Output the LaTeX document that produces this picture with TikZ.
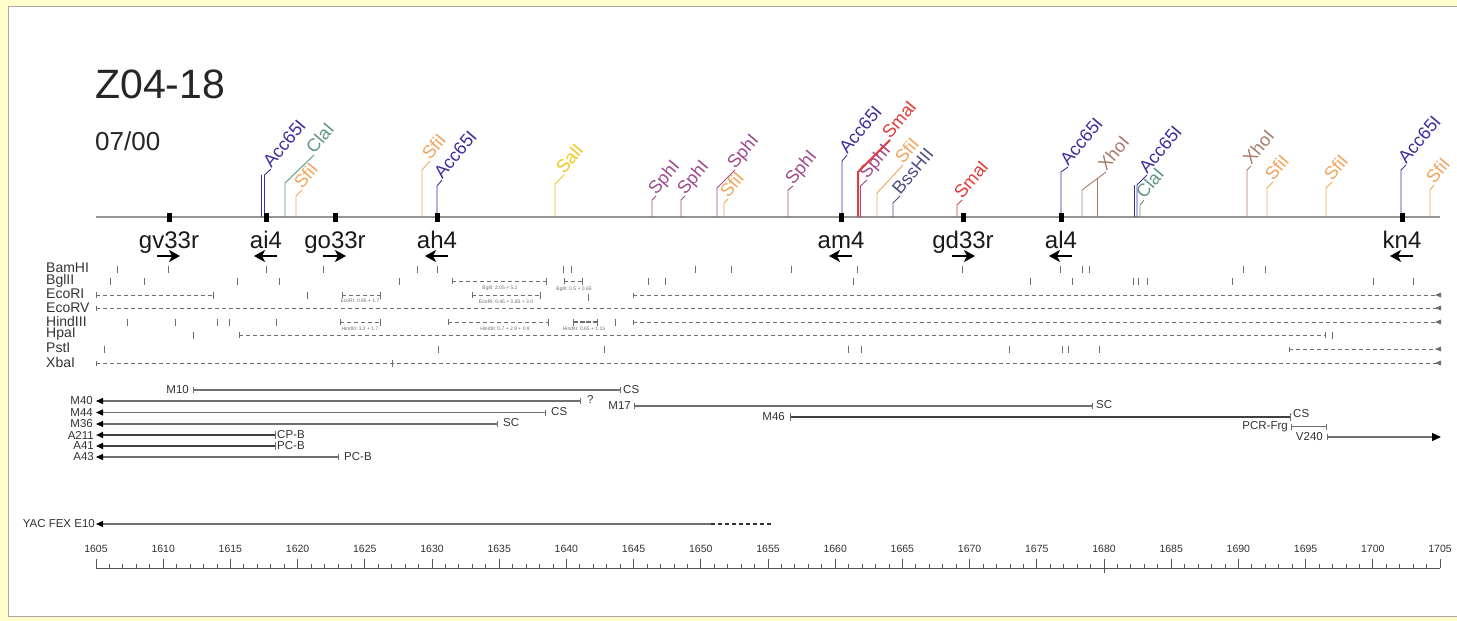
\documentclass[tikz,border=0pt]{standalone}
\usepackage{fontspec}
\setmainfont{Liberation Sans}
\usetikzlibrary{arrows.meta}
\definecolor{bgyel}{HTML}{FFFFCC}
\definecolor{frameg}{HTML}{A8A8A8}
\definecolor{cAcc}{HTML}{3C2F9C}
\definecolor{cCla}{HTML}{5E9585}
\definecolor{cSfi}{HTML}{F2A55A}
\definecolor{cSal}{HTML}{F0C820}
\definecolor{cSph}{HTML}{9E4A8E}
\definecolor{cSma}{HTML}{E23B3B}
\definecolor{cBss}{HTML}{4E4E84}
\definecolor{cXho}{HTML}{A67A6A}
\definecolor{laneg}{HTML}{6E6E6E}
\definecolor{txtg}{HTML}{333333}
\definecolor{cloneg}{HTML}{707070}
\definecolor{rulg}{HTML}{555555}
\definecolor{mainl}{HTML}{959595}
\newcommand{\fs}[1]{\fontsize{#1}{#1}\selectfont}
\newcommand{\rsite}[8][]{%
  \draw[#7, line width=0.9pt, #1] (#3,217) -- (#3,#4) -- (#5,#6);
  \node[sitelab, text=#7] (#2) at (#5,#6) {#8};}
\newcommand{\lticks}[2]{\foreach \t in {#2}{\draw[lanetick] (\t,#1) ++(0,-3.5) -- ++(0,7);}}
\newcommand{\dseg}[3]{\draw[lanedash] (#2,#1) -- (#3,#1);
  \draw[lanetick] (#2,#1) ++(0,-3) -- ++(0,6);
  \draw[lanetick] (#3,#1) ++(0,-3.5) -- ++(0,7);}
\newcommand{\dend}[2]{\draw[lanedash] (#2,#1) -- (1438,#1);
  \draw[lanetick] (#2,#1) ++(0,-2.5) -- ++(0,5);
  \fill[laneg] (1435,#1) -- (1441,#1-2.5) -- (1441,#1+2.5) -- cycle;}
\begin{document}
\begin{tikzpicture}[x=1pt,y=-1pt,
 sitelab/.style={rotate=50, anchor=base west, inner sep=0.5pt, font=\fs{18}},
 mlab/.style={font=\fs{24}, anchor=base, inner sep=0, text=black!90},
 parrow/.style={line width=2.4pt, -{Stealth[length=11pt,width=12pt,inset=3pt]}},
 lanelab/.style={font=\fs{14}, text=txtg, anchor=west, inner sep=0},
 lanetick/.style={draw=laneg, line width=0.9pt},
 lanedash/.style={draw=laneg, line width=0.9pt, dash pattern=on 4pt off 3pt},
 ann/.style={font=\fs{5}, text=laneg, inner sep=0},
 clone/.style={draw=cloneg, line width=1.2pt},
 thickclone/.style={draw=black!75, line width=2.4pt},
 clonelab/.style={font=\fs{11.5}, text=txtg, inner sep=0},
 ltip/.style={{Triangle[length=7pt,width=6pt,color=black]}-},
 rtip/.style={-{Triangle[length=9pt,width=8pt,color=black]}},
 ctick/.style={draw=cloneg, line width=1pt},
 rul/.style={draw=rulg, line width=0.8pt},
 rulab/.style={font=\fs{10.5}, text=txtg, inner sep=0},
 marker/.style={fill=black}
]
\useasboundingbox (0,0) rectangle (1457,621);
\clip (0,0) rectangle (1457,621);
\fill[bgyel] (0,0) rectangle (1457,621);
\filldraw[fill=white, draw=frameg, line width=1pt] (8,6) rectangle (1470,616);

% title
\node[font=\fs{41}, anchor=base west, inner sep=0, text=black!85] (title) at (95,98) {Z04-18};
\node[font=\fs{26}, anchor=base west, inner sep=0, text=black!85] (date) at (95,150) {07/00};

% main line
\draw[mainl, line width=2pt] (96,217) -- (1440,217);

% restriction sites
\draw[cAcc, line width=0.9pt] (261.5,217) -- (261.5,175);
\rsite{s1}{264.5}{175}{271}{169}{cAcc}{Acc65I}
\rsite{s2}{285}{183}{314}{155}{cCla}{ClaI}
\rsite{s3}{296}{196}{302}{190}{cSfi}{SfiI}
\rsite{s4}{422}{170}{430}{161}{cSfi}{SfiI}
\rsite{s5}{437}{186}{442}{180}{cAcc}{Acc65I}
\rsite{s6}{555}{184}{564}{175}{cSal}{SalI}
\rsite{s7}{652}{200}{656}{196}{cSph}{SphI}
\rsite{s8}{681}{200}{685}{196}{cSph}{SphI}
\rsite{s9}{717}{188}{735}{170}{cSph}{SphI}
\rsite{s10}{724}{203}{728}{199}{cSfi}{SfiI}
\rsite{s11}{788}{190}{793}{186}{cSph}{SphI}
\rsite{s12}{842}{161}{847}{155}{cAcc}{Acc65I}
\rsite{s14}{860.5}{186}{867}{180}{cSph}{SphI}
\rsite[line width=2pt]{s13}{858}{172}{890}{140}{cSma}{SmaI}
\rsite{s15}{877}{193}{903}{165}{cSfi}{SfiI}
\rsite{s16}{893}{203}{900}{196}{cBss}{BssHII}
\rsite{s17}{957}{205}{962}{200}{cSma}{SmaI}
\rsite{s18}{1061}{172}{1068}{167}{cAcc}{Acc65I}
\draw[cXho, line width=0.9pt] (1097,217) -- (1097,178.5);
\rsite{s19}{1082}{190}{1106}{172}{cXho}{XhoI}
\draw[cAcc, line width=0.9pt] (1134,217) -- (1134,185);
\rsite{s20}{1137}{185}{1147}{175}{cAcc}{Acc65I}
\rsite{s21}{1140}{205}{1144}{200}{cCla}{ClaI}
\rsite{s22}{1247}{170}{1251}{166}{cXho}{XhoI}
\rsite{s23}{1267}{188}{1273}{182}{cSfi}{SfiI}
\rsite{s24}{1326}{188}{1332}{182}{cSfi}{SfiI}
\rsite{s25}{1401}{170}{1406}{165}{cAcc}{Acc65I}
\rsite{s26}{1430}{190}{1434}{185}{cSfi}{SfiI}

% markers, labels and arrows
\foreach \mx in {169,266,335,437,841,963,1061,1402}{\fill[marker] (\mx-2.5,212.5) rectangle (\mx+2.5,221.5);}
\node[mlab] (gv) at (169,248) {gv33r};
\node[mlab] (ai) at (266,248) {ai4};
\node[mlab] (go) at (335,248) {go33r};
\node[mlab] (ah) at (437,248) {ah4};
\node[mlab] (am) at (841,248) {am4};
\node[mlab] (gd) at (963,248) {gd33r};
\node[mlab] (al) at (1061,248) {al4};
\node[mlab] (kn) at (1402,248) {kn4};
\draw[parrow] (157,256) -- (180,256);
\draw[parrow] (277,256) -- (254,256);
\draw[parrow] (323,256) -- (346,256);
\draw[parrow] (448,256) -- (425,256);
\draw[parrow] (852,256) -- (829,256);
\draw[parrow] (952,256) -- (975,256);
\draw[parrow] (1072,256) -- (1049,256);
\draw[parrow] (1413,256) -- (1390,256);

% lanes
\node[lanelab] (lBam) at (46,268) {BamHI};
\node[lanelab] (lBgl) at (46,281) {BglII};
\node[lanelab] (lEco) at (46,294) {EcoRI};
\node[lanelab] (lEcv) at (46,307.5) {EcoRV};
\node[lanelab] (lHin) at (46,321) {HindIII};
\node[lanelab] (lHpa) at (46,334.5) {HpaI};
\node[lanelab] (lPst) at (46,348) {PstI};
\node[lanelab] (lXba) at (46,362) {XbaI};

% BamHI
\lticks{269}{117,168,266,323,417,437,563,571,695,731,791,857,962,1060,1082,1089,1243,1265}
% BglII
\lticks{281}{110,144,237,279,399,648,665,853,1030,1072,1133,1138,1147,1232,1373,1413}
\dseg{281}{452}{546}
\dseg{281}{564}{582}
\node[ann] (a1) at (500,288) {BglII: 2.05 + 5.2};
\node[ann] (a2) at (574,289) {BglII: 0.5 + 0.65};
% EcoRI
\dseg{295}{96}{213}
\lticks{295}{307}
\dseg{295}{342}{380}
\node[ann] (a3) at (360,301) {EcoRI: 0.95 + 1.7};
\dseg{295}{472}{540}
\node[ann] (a4) at (506,302) {EcoRI: 0.45 + 0.85 + 3.0};
\lticks{297}{588}
\dend{295}{633}
% EcoRV
\dend{308}{96}
% HindIII
\lticks{322}{127,175,217,229,276,615}
\dseg{322}{340}{380}
\node[ann] (a5) at (360,329) {HindIII: 1.2 + 1.7};
\dseg{322}{448}{548}
\node[ann] (a6) at (505,329) {HindIII: 0.7 + 2.9 + 0.9};
\draw[draw=laneg, line width=1.1pt, dash pattern=on 5pt off 1.5pt] (573,322) -- (597,322);
\draw[lanetick] (573,318.5) -- (573,325.5);
\draw[lanetick] (597,318.5) -- (597,325.5);
\node[ann] (a7) at (584,329) {HindIII: 0.65 + 1.15};
\dend{322}{633}
% HpaI
\lticks{335}{193,1332}
\draw[lanedash] (239,335) -- (1325,335);
\draw[lanetick] (239,332) -- (239,338);
\draw[lanetick] (1325,332) -- (1325,338);
% PstI
\lticks{349}{104,438,604,848,861,1009,1062,1068,1099}
\dend{349}{1289}
% XbaI
\dend{363}{96}
\lticks{363}{392}

% clones
\node[clonelab, anchor=east] (M10) at (189,390) {M10};
\draw[clone] (193,390) -- (620,390);
\draw[ctick] (193,387) -- (193,393); \draw[ctick] (620,387) -- (620,393);
\node[clonelab, anchor=west] (M10e) at (623,390) {CS};

\node[clonelab, anchor=east] (M40) at (93,401) {M40};
\draw[clone, ltip] (96,401) -- (580,401);
\draw[ctick] (580,398) -- (580,404);
\node[clonelab, anchor=west] (M40e) at (587,399.5) {?};

\node[clonelab, anchor=east] (M17) at (631,406) {M17};
\draw[clone] (634,406) -- (1092,406);
\draw[ctick] (634,403) -- (634,409); \draw[ctick] (1092,403) -- (1092,409);
\node[clonelab, anchor=west] (M17e) at (1096,405) {SC};

\node[clonelab, anchor=east] (M44) at (93,412.5) {M44};
\draw[clone, ltip] (96,412.5) -- (545,412.5);
\draw[ctick] (545,409.5) -- (545,415.5);
\node[clonelab, anchor=west] (M44e) at (551,412) {CS};

\node[clonelab, anchor=east] (M46) at (785,417) {M46};
\draw[thickclone] (790,417) -- (1290,417);
\draw[ctick] (790,413) -- (790,421); \draw[ctick] (1290,413) -- (1290,421);
\node[clonelab, anchor=west] (M46e) at (1293,414) {CS};

\node[clonelab, anchor=east] (M36) at (93,424) {M36};
\draw[clone, ltip] (96,424) -- (497,424);
\draw[ctick] (497,421) -- (497,427);
\node[clonelab, anchor=west] (M36e) at (503,423) {SC};

\node[clonelab, anchor=east] (PCR) at (1288,426.5) {PCR-Frg};
\draw[clone] (1291,426.5) -- (1326,426.5);
\draw[ctick] (1291,423.5) -- (1291,429.5); \draw[ctick] (1326,423.5) -- (1326,429.5);

\node[clonelab, anchor=east] (A211) at (94,435) {A211};
\draw[thickclone, {Triangle[length=7pt,width=6pt,color=black]}-] (96,435) -- (275,435);
\draw[ctick] (275,431) -- (275,439);
\node[clonelab, anchor=west] (A211e) at (277,434.5) {CP-B};

\node[clonelab, anchor=east] (V240) at (1323,437) {V240};
\draw[clone, rtip] (1327,437) -- (1441,437);
\draw[ctick] (1327,434) -- (1327,440);

\node[clonelab, anchor=east] (A41) at (94,446) {A41};
\draw[thickclone, {Triangle[length=7pt,width=6pt,color=black]}-] (96,446) -- (275,446);
\draw[ctick] (275,442) -- (275,450);
\node[clonelab, anchor=west] (A41e) at (277,445.5) {PC-B};

\node[clonelab, anchor=east] (A43) at (94,457) {A43};
\draw[clone, ltip] (96,457) -- (338,457);
\draw[ctick] (338,454) -- (338,460);
\node[clonelab, anchor=west] (A43e) at (344,457) {PC-B};

% YAC
\node[clonelab, anchor=east] (yac) at (95,524) {YAC FEX E10};
\draw[clone, ltip] (96,524) -- (711,524);
\draw[black!80, line width=1.4pt, dash pattern=on 4pt off 3pt] (711,524) -- (773,524);

% ruler
\draw[rul] (96,568) -- (1440,568);
\foreach \i in {0,...,100}{
  \pgfmathsetmacro{\xx}{96+13.44*\i}
  \pgfmathtruncatemacro{\m}{mod(\i,5)}
  \ifnum\m=0 \draw[rul] (\xx,568) -- (\xx,559); \else \draw[rul] (\xx,568) -- (\xx,564); \fi
}
\draw[rul] (1104,568) -- (1104,573);
\foreach \i in {0,...,20}{
  \pgfmathsetmacro{\xx}{96+67.2*\i}
  \pgfmathtruncatemacro{\lab}{1605+5*\i}
  \node[rulab] (r\i) at (\xx,549) {\lab};
}
\end{tikzpicture}
\end{document}
